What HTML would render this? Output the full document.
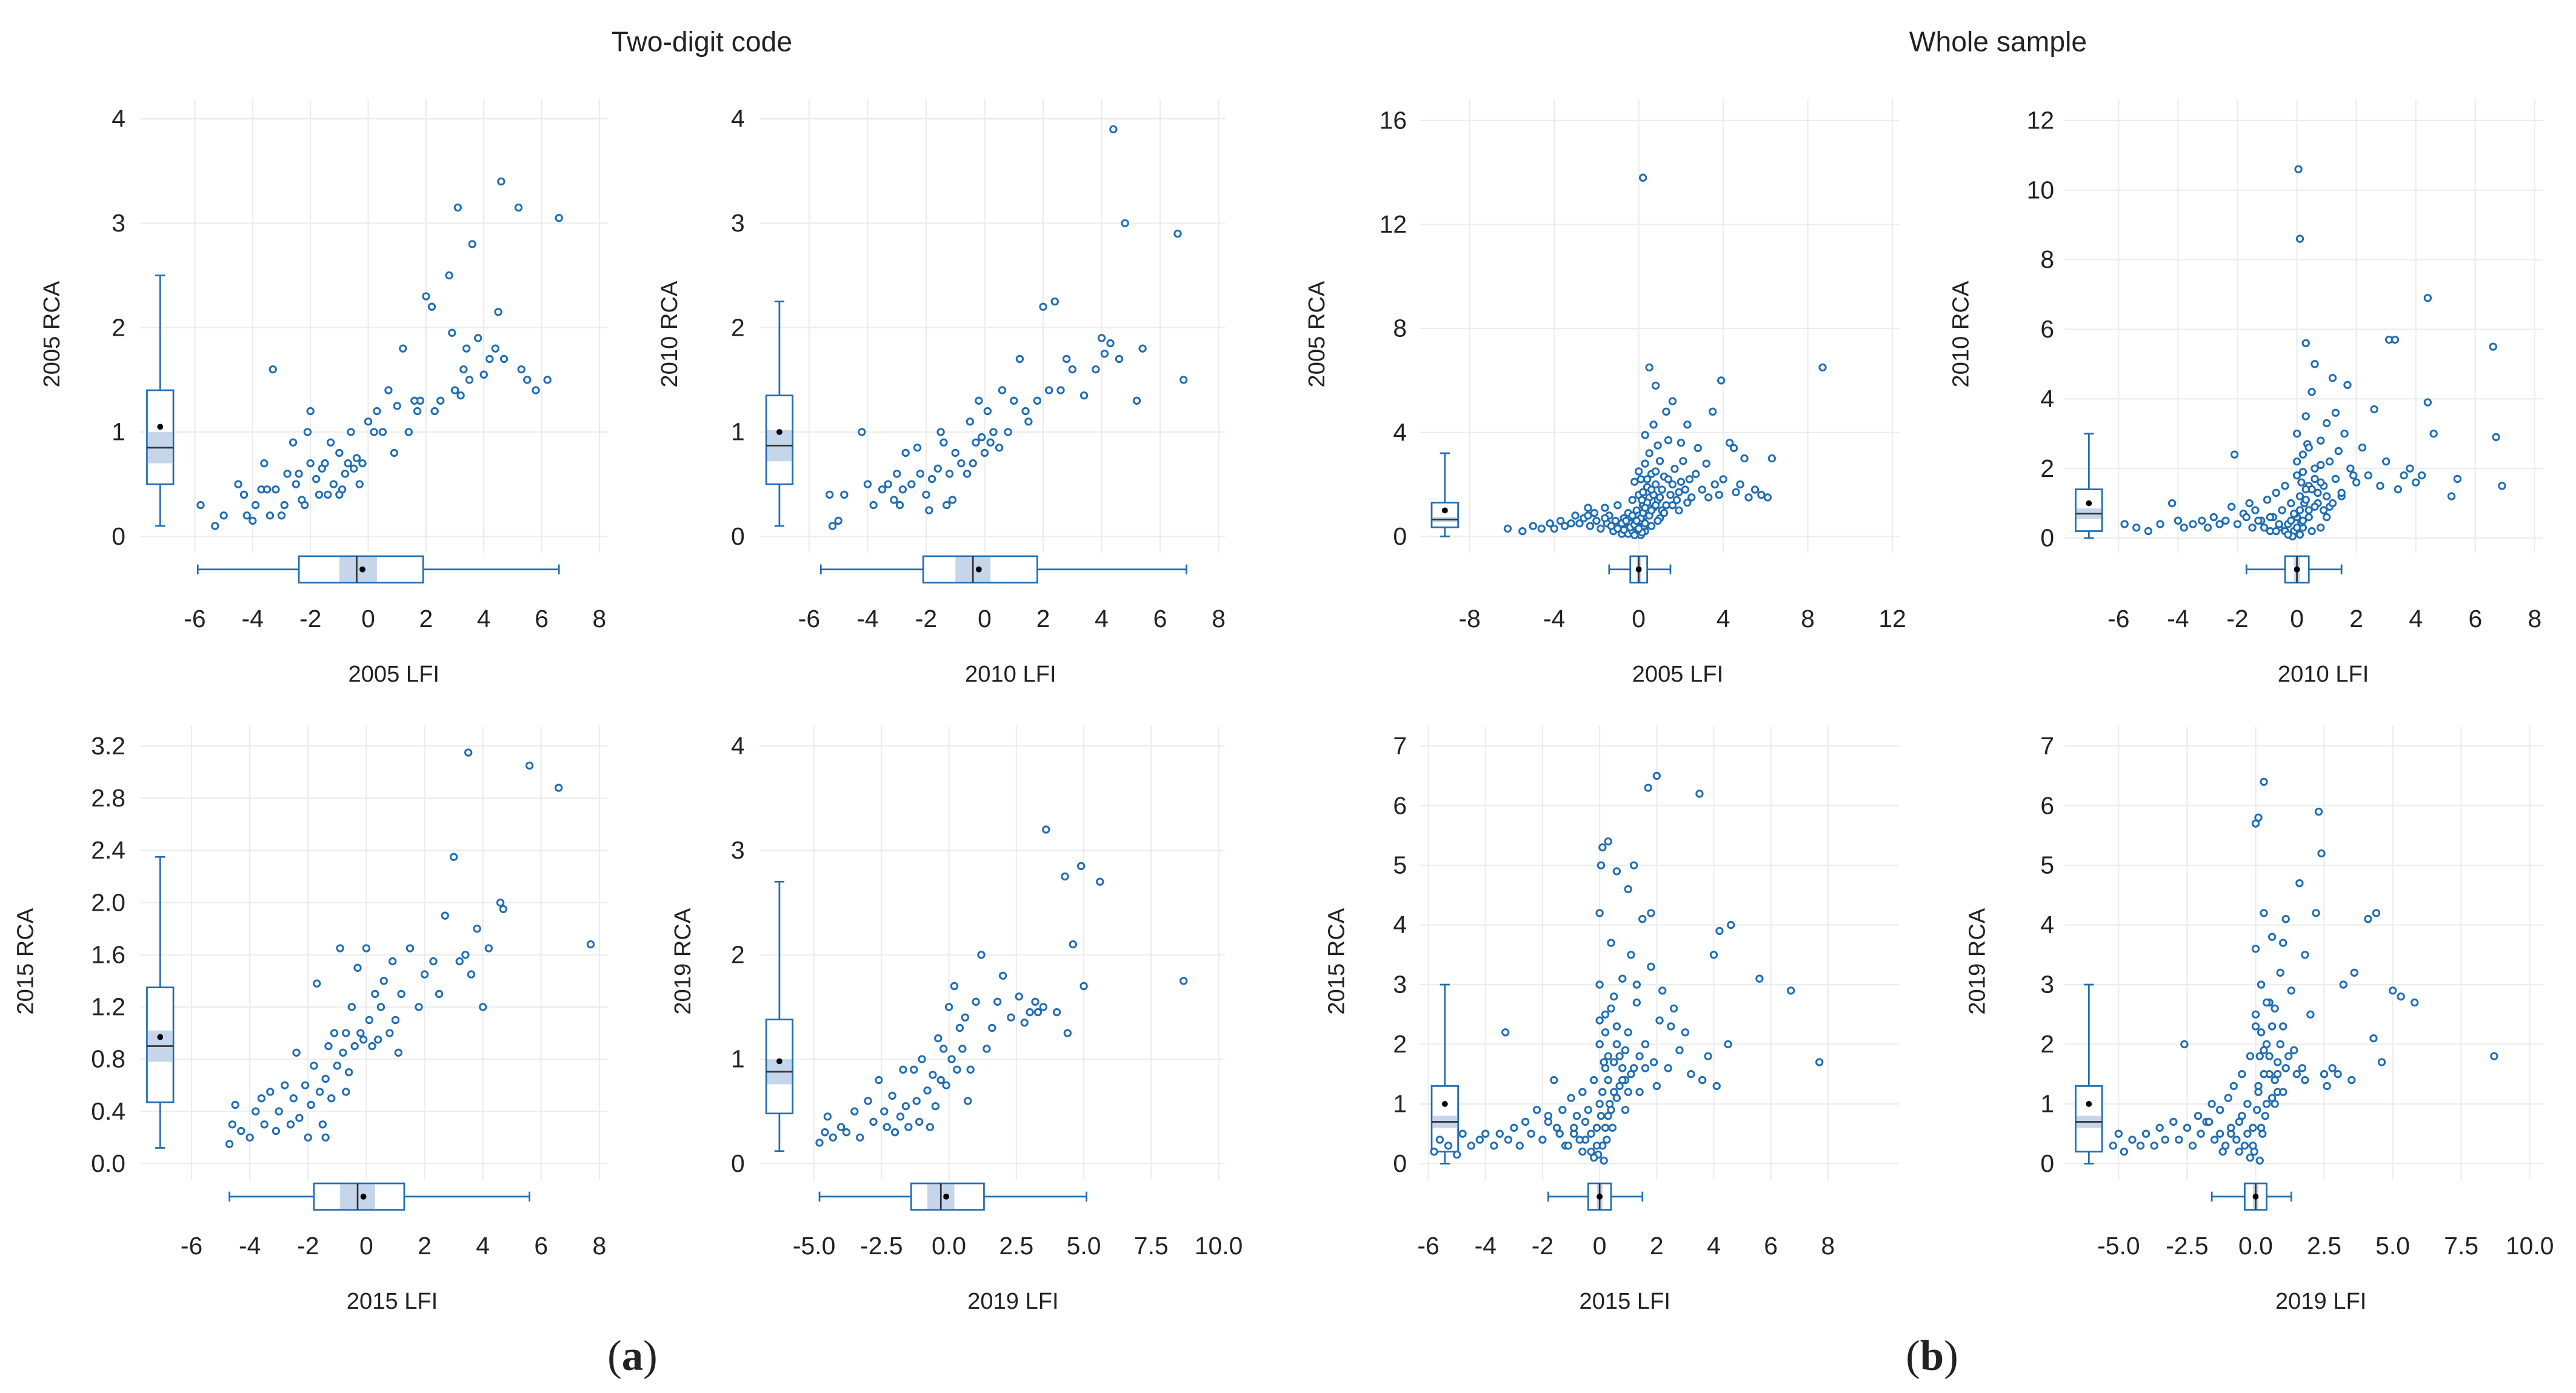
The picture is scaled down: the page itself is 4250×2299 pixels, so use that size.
<!DOCTYPE html>
<html><head><meta charset="utf-8"><style>
html,body{margin:0;padding:0;background:#fff}
svg{display:block}
text{font-family:"Liberation Sans",sans-serif;fill:#222}
</style></head><body>
<svg id="chart" xmlns="http://www.w3.org/2000/svg" width="4250" height="2299" viewBox="0 0 1560 844" preserveAspectRatio="none">
<text x="425" y="31" font-size="17" text-anchor="middle">Two-digit code</text>
<text x="1210" y="31" font-size="17" text-anchor="middle">Whole sample</text>
<text x="383" y="830" font-size="26" text-anchor="middle" style="font-family:'Liberation Serif',serif">(<tspan font-weight="bold">a</tspan>)</text>
<text x="1170" y="830" font-size="26" text-anchor="middle" style="font-family:'Liberation Serif',serif">(<tspan font-weight="bold">b</tspan>)</text>
</svg>
<script>
// ---- data (LFI, RCA) per panel ----
const p1x=[-5.8,-5.3,-5,-4.5,-4.3,-4.2,-4,-3.9,-3.7,-3.6,-3.5,-3.4,-3.3,-3.2,-3,-2.9,-2.8,-2.6,-2.5,-2.4,-2.3,-2.2,-2.1,-2,-2,-1.8,-1.6,-1.5,-1.4,-1.3,-1.2,-1,-1,-0.8,-0.7,-0.6,-0.5,-0.4,-0.3,-0.2,0,0.2,0.3,0.5,0.7,0.9,1,1.2,1.4,1.7,1.8,2,2.2,2.3,2.5,2.8,3,3.1,3.2,3.3,3.5,3.6,3.8,4,4.2,4.4,4.5,4.6,4.7,5.2,5.3,5.5,5.8,6.2,6.6,3.4,2.9,1.6,-0.9,-1.7];
const p1y=[0.3,0.1,0.2,0.5,0.4,0.2,0.15,0.3,0.45,0.7,0.45,0.2,1.6,0.45,0.2,0.3,0.6,0.9,0.5,0.6,0.35,0.3,1.0,1.2,0.7,0.55,0.65,0.7,0.4,0.9,0.5,0.4,0.8,0.6,0.7,1.0,0.65,0.75,0.5,0.7,1.1,1.0,1.2,1.0,1.4,0.8,1.25,1.8,1.0,1.2,1.3,2.3,2.2,1.2,1.3,2.5,1.4,3.15,1.35,1.6,1.5,2.8,1.9,1.55,1.7,1.8,2.15,3.4,1.7,3.15,1.6,1.5,1.4,1.5,3.05,1.8,1.95,1.3,0.45,0.4];
const p2x=[-5.3,-5.2,-5,-4.8,-4.2,-4,-3.8,-3.5,-3.3,-3.1,-3,-2.9,-2.7,-2.5,-2.3,-2.2,-2,-1.8,-1.6,-1.5,-1.4,-1.3,-1.2,-1.1,-1,-0.8,-0.6,-0.5,-0.4,-0.3,-0.2,0,0.1,0.3,0.5,0.6,0.8,1,1.2,1.4,1.5,1.8,2,2.2,2.4,2.6,2.8,3,3.4,3.8,4,4.1,4.3,4.4,4.6,4.8,5.2,5.4,6.6,6.8,-0.1,0.2,-1.9,-2.8];
const p2y=[0.4,0.1,0.15,0.4,1.0,0.5,0.3,0.45,0.5,0.35,0.6,0.3,0.8,0.5,0.85,0.6,0.4,0.55,0.65,1.0,0.9,0.3,0.6,0.35,0.8,0.7,0.6,1.1,0.7,0.9,1.3,0.8,1.2,1.0,0.85,1.4,1.0,1.3,1.7,1.2,1.1,1.3,2.2,1.4,2.25,1.4,1.7,1.6,1.35,1.6,1.9,1.75,1.85,3.9,1.7,3.0,1.3,1.8,2.9,1.5,0.95,0.9,0.25,0.45];
const p3x=[-6.2,-5.5,-5,-4.6,-4.2,-4,-3.7,-3.5,-3.2,-3,-2.8,-2.6,-2.4,-2.3,-2.1,-2,-1.8,-1.6,-1.5,-1.4,-1.2,-1.1,-1,-0.9,-0.8,-0.7,-0.6,-0.5,-0.5,-0.4,-0.3,-0.3,-0.2,-0.1,-0.1,0,0,0,0,0.1,0.1,0.2,0.2,0.2,0.3,0.3,0.4,0.4,0.5,0.5,0.5,0.6,0.6,0.7,0.8,0.8,0.9,1,1,1.1,1.2,1.3,1.3,1.4,1.5,1.6,1.7,1.8,2,2,2.2,2.3,2.4,2.5,2.7,2.8,3,3.2,3.3,3.5,3.6,3.8,3.9,4,4.3,4.5,4.6,4.8,5,5.2,5.5,5.8,6.1,6.3,8.7,1.6,0.9,0.7,2.1,1.9,-0.2,0.3,-0.2,0.1,0.15,-0.05,0.25,0.05,
 -1.3,-1.0,-0.8,-0.6,-0.4,-0.2,0,0.1,0.2,0.3,0.4,0.5,0.6,0.7,0.8,0.9,1.0,1.1,1.2,0.0,0.2,0.4,-0.1,0.3,0.6,0.8,1.4,1.6,1.9,2.3,-0.7,-1.6,-2.4,-0.3,0.15];
const p3y=[0.3,0.2,0.4,0.3,0.5,0.3,0.6,0.4,0.5,0.8,0.5,0.7,1.1,0.4,0.9,0.6,0.3,1.1,0.5,0.8,0.2,0.6,1.2,0.4,0.1,0.7,0.3,0.1,0.9,0.5,0.2,1.4,0.7,0.3,1.0,0.1,0.5,0.8,1.6,0.3,2.2,0.6,1.2,13.8,2.8,0.2,1.9,0.9,3.2,6.5,1.5,0.4,2.4,1.1,5.8,2.0,1.4,2.9,0.7,1.8,2.3,4.8,1.2,3.7,1.6,2.0,2.6,1.4,2.1,3.6,1.8,4.3,2.2,1.5,2.4,3.4,1.8,2.8,1.5,4.8,2.0,1.6,6.0,2.2,3.6,3.4,1.7,2.0,3.0,1.5,1.8,1.6,1.5,3.0,6.5,5.2,3.5,4.3,2.9,1.0,2.1,3.9,0.05,0.05,0.15,0.25,0.4,0.6,
 0.4,0.3,0.5,0.6,0.35,0.45,0.3,0.7,0.9,0.5,1.3,0.8,1.0,1.6,1.2,0.6,1.5,1.0,0.9,2.5,1.7,2.2,0.6,1.1,1.8,2.5,2.2,1.2,1.7,1.3,0.25,0.7,0.8,0.8,1.4];
const p4x=[-5.8,-5.4,-5,-4.6,-4.2,-4,-3.8,-3.5,-3.2,-3,-2.8,-2.6,-2.4,-2.2,-2.1,-2,-1.8,-1.6,-1.5,-1.4,-1.2,-1,-0.9,-0.8,-0.7,-0.6,-0.5,-0.4,-0.3,-0.2,-0.1,0,0,0,0.05,0.1,0.1,0.2,0.2,0.3,0.3,0.4,0.4,0.5,0.6,0.7,0.8,0.9,1,1,1.1,1.2,1.3,1.4,1.5,1.6,1.7,1.8,2,2.2,2.4,2.6,2.8,3,3.1,3.3,3.4,3.6,3.8,4,4.2,4.4,4.4,4.6,5.2,5.4,6.6,6.7,6.9,0.6,1.3,0.35,-0.15,0.1,0.15,-0.05,0.25,0.5,0.8,
 -1.3,-1.1,-0.9,-0.6,-0.4,-0.2,0,0.1,0.2,0.3,0.4,0.5,0.6,0.7,0.8,0.9,1.0,1.1,1.2,0.0,0.2,0.4,-0.1,0.3,0.6,0.8,1.5,1.9,-0.7,-1.7,-0.3,0.15];
const p4y=[0.4,0.3,0.2,0.4,1.0,0.5,0.3,0.4,0.5,0.3,0.6,0.4,0.5,0.9,2.4,0.4,0.7,1.0,0.3,0.8,0.5,1.1,0.2,0.6,1.3,0.3,0.8,1.5,0.4,1.0,0.2,0.6,1.8,3.0,10.6,8.6,1.2,0.3,2.4,5.6,3.5,1.5,0.8,4.2,2.0,1.0,2.8,1.5,3.3,0.6,2.2,4.6,1.7,2.5,1.2,3.0,4.4,2.0,1.6,2.6,1.8,3.7,1.5,2.2,5.7,5.7,1.4,1.8,2.0,1.6,1.8,3.9,6.9,3.0,1.2,1.7,5.5,2.9,1.5,5.0,3.6,2.7,0.05,0.1,0.45,0.7,1.0,0.2,0.3,
 0.5,0.3,0.6,0.4,0.2,0.5,0.3,0.8,0.5,1.1,0.6,1.4,0.9,1.3,1.6,0.8,1.2,0.9,1.0,2.2,1.9,2.6,0.7,1.4,1.7,2.1,1.3,1.8,0.2,0.6,0.1,1.6];
const p5x=[-4.7,-4.6,-4.5,-4.3,-4,-3.8,-3.6,-3.5,-3.3,-3.1,-3,-2.8,-2.6,-2.5,-2.4,-2.3,-2.1,-2,-1.9,-1.8,-1.7,-1.6,-1.5,-1.4,-1.3,-1.2,-1.1,-1,-0.9,-0.8,-0.7,-0.6,-0.5,-0.4,-0.3,-0.2,-0.1,0,0.1,0.2,0.3,0.5,0.6,0.8,0.9,1,1.2,1.5,1.8,2,2.3,2.5,3,3.2,3.4,3.5,3.6,3.8,4,4.2,4.6,4.7,5.6,6.6,7.7,-0.7,-1.4,0.4,1.1,2.7];
const p5y=[0.15,0.3,0.45,0.25,0.2,0.4,0.5,0.3,0.55,0.25,0.4,0.6,0.3,0.5,0.85,0.35,0.6,0.2,0.45,0.75,1.38,0.55,0.3,0.65,0.9,0.5,1.0,0.75,1.65,0.85,1.0,0.7,1.2,0.9,1.5,1.0,0.95,1.65,1.1,0.9,1.3,1.2,1.4,1.0,1.55,1.1,1.3,1.65,1.2,1.45,1.55,1.3,2.35,1.55,1.6,3.15,1.45,1.8,1.2,1.65,2.0,1.95,3.05,2.88,1.68,0.55,0.2,0.95,0.85,1.9];
const p6x=[-4.8,-4.6,-4.5,-4.3,-4,-3.8,-3.5,-3.3,-3,-2.8,-2.6,-2.4,-2.3,-2.1,-2,-1.8,-1.6,-1.5,-1.3,-1.2,-1.1,-1,-0.8,-0.6,-0.5,-0.4,-0.3,-0.2,-0.1,0,0.1,0.2,0.3,0.4,0.5,0.6,0.8,1,1.2,1.4,1.6,2,2.3,2.6,2.8,3,3.2,3.5,3.6,4,4.3,4.4,4.6,4.9,5,5.6,8.7,-0.7,0.7,-1.7,1.8,3.3];
const p6y=[0.2,0.3,0.45,0.25,0.35,0.3,0.5,0.25,0.6,0.4,0.8,0.5,0.35,0.65,0.3,0.45,0.55,0.35,0.9,0.6,0.4,1.0,0.7,0.85,0.55,1.2,0.8,1.1,0.75,1.5,1.0,1.7,0.9,1.3,1.1,1.4,0.9,1.55,2.0,1.1,1.3,1.8,1.4,1.6,1.35,1.45,1.55,1.5,3.2,1.45,2.75,1.25,2.1,2.85,1.7,2.7,1.75,0.35,0.6,0.9,1.55,1.45];
const p7x=[-5.8,-5.6,-5.3,-5,-4.8,-4.5,-4.2,-4,-3.7,-3.5,-3.3,-3.2,-3,-2.8,-2.6,-2.4,-2.2,-2,-1.8,-1.6,-1.5,-1.3,-1.2,-1,-0.9,-0.8,-0.6,-0.5,-0.4,-0.3,-0.2,-0.1,0,0,0,0,0.05,0.1,0.1,0.2,0.2,0.3,0.3,0.4,0.5,0.5,0.6,0.7,0.8,0.9,1,1.1,1.2,1.3,1.4,1.5,1.6,1.7,1.8,1.9,2,2.1,2.2,2.4,2.6,2.8,3,3.2,3.5,3.6,3.8,4,4.1,4.2,4.5,4.6,5.6,6.7,7.7,1.0,0.6,1.3,0.9,0.15,-0.05,0.25,0.35,0.45,1.8,2.5,1.2,
 -1.4,-1.1,-0.9,-0.7,-0.5,-0.3,-0.1,0.05,0.1,0.2,0.3,0.4,0.5,0.6,0.7,0.8,0.9,1.0,1.1,0.0,0.2,0.4,0.3,0.6,0.8,1.4,1.6,2.0,-0.6,-1.8,-0.2,0.15];
const p7y=[0.2,0.4,0.3,0.15,0.5,0.3,0.4,0.5,0.3,0.5,2.2,0.4,0.6,0.3,0.7,0.5,0.9,0.4,0.8,1.4,0.6,0.9,0.3,1.1,0.5,0.8,1.2,0.4,0.9,0.2,1.4,0.6,1.0,2.0,3.0,4.2,5.0,0.3,5.3,1.6,2.5,5.4,0.8,3.7,1.2,2.8,4.9,1.8,3.1,1.4,2.2,3.5,1.6,2.7,1.2,4.1,2.0,6.3,3.3,1.7,6.5,2.4,2.9,1.6,2.6,1.9,2.2,1.5,6.2,1.4,1.8,3.5,1.3,3.9,2.0,4.0,3.1,2.9,1.7,4.6,2.0,3.0,0.9,0.05,0.15,0.4,1.0,0.6,4.2,2.3,5.0,
 0.5,0.3,0.6,0.4,0.7,0.5,0.3,0.8,1.2,0.6,1.4,0.9,1.7,1.1,1.3,1.6,1.9,1.2,1.5,2.4,2.2,2.6,1.8,2.3,1.4,1.8,1.6,1.3,0.2,0.7,0.1,1.7];
const p8x=[-5.2,-5,-4.8,-4.5,-4.2,-4,-3.7,-3.5,-3.3,-3,-2.8,-2.6,-2.5,-2.3,-2.1,-2,-1.8,-1.6,-1.5,-1.3,-1.2,-1,-0.9,-0.8,-0.6,-0.5,-0.4,-0.3,-0.2,-0.1,0,0,0,0.1,0.1,0.2,0.3,0.3,0.4,0.5,0.6,0.7,0.8,0.9,1,1.1,1.2,1.3,1.5,1.6,1.8,2,2.2,2.3,2.4,2.6,2.8,3,3.2,3.5,3.6,4.1,4.4,4.3,4.6,5,5.3,5.8,8.7,1.8,1,0.5,0.7,0.15,-0.05,0.25,0.35,2.5,
 -1.3,-1.1,-0.9,-0.7,-0.5,-0.3,-0.1,0.05,0.1,0.2,0.3,0.4,0.5,0.6,0.7,0.8,0.9,1.0,1.1,0.0,0.2,0.4,0.3,0.6,0.8,1.4,1.7,-0.6,-1.7,-0.2,0.15];
const p8y=[0.3,0.5,0.2,0.4,0.3,0.5,0.3,0.6,0.4,0.7,0.4,2.0,0.6,0.3,0.8,0.5,0.7,1.0,0.4,0.9,0.2,1.1,0.5,1.3,0.7,1.5,0.3,1.0,1.8,0.6,2.3,3.6,5.7,5.8,1.2,3.0,4.2,6.4,2.0,1.5,3.8,2.6,1.2,3.2,2.3,4.1,1.8,2.9,1.5,4.7,3.5,2.5,4.2,5.9,5.2,1.3,1.6,1.5,3.0,1.4,3.2,4.1,4.2,2.1,1.7,2.9,2.8,2.7,1.8,1.4,3.7,2.7,1.0,0.05,0.2,0.5,0.8,1.5,
 0.5,0.3,0.6,0.4,0.8,0.5,0.3,0.9,1.3,0.6,1.5,1.0,1.8,1.1,1.4,1.7,2.0,1.2,1.6,2.5,2.2,2.7,1.9,2.3,1.5,1.9,1.6,0.2,0.7,0.1,1.8];
// box-plot stats: [min, q1, median, q3, max, mean, notchLo, notchHi]
const rcaStats=[[0.1,0.5,0.85,1.4,2.5,1.05,0.7,1.0],[0.1,0.5,0.87,1.35,2.25,1.0,0.72,1.02],[0,0.35,0.65,1.3,3.2,1.0,0.55,0.75],[0,0.2,0.7,1.4,3.0,1.0,0.55,0.85],[0.12,0.47,0.9,1.35,2.35,0.97,0.78,1.02],[0.12,0.48,0.88,1.38,2.7,0.98,0.76,1.0],[0,0.2,0.7,1.3,3.0,1.0,0.6,0.8],[0,0.2,0.7,1.3,3.0,1.0,0.6,0.8]];
const lfiStats=[[-5.9,-2.4,-0.4,1.9,6.6,-0.2,-1.0,0.3],[-5.6,-2.1,-0.4,1.8,6.9,-0.2,-1.0,0.2],[-1.4,-0.4,0,0.4,1.5,0,-0.1,0.1],[-1.7,-0.4,0,0.4,1.5,0,-0.1,0.1],[-4.7,-1.8,-0.3,1.3,5.6,-0.1,-0.9,0.3],[-4.8,-1.4,-0.3,1.3,5.1,-0.1,-0.8,0.2],[-1.8,-0.4,0,0.4,1.5,0,-0.1,0.1],[-1.6,-0.4,0,0.4,1.3,0,-0.1,0.1]];
const xTickLabels=[["-6","-4","-2","0","2","4","6","8"],["-6","-4","-2","0","2","4","6","8"],["-8","-4","0","4","8","12"],["-6","-4","-2","0","2","4","6","8"],["-6","-4","-2","0","2","4","6","8"],["-5.0","-2.5","0.0","2.5","5.0","7.5","10.0"],["-6","-4","-2","0","2","4","6","8"],["-5.0","-2.5","0.0","2.5","5.0","7.5","10.0"]];
const yTickLabels=[["0","1","2","3","4"],["0","1","2","3","4"],["0","4","8","12","16"],["0","2","4","6","8","10","12"],["0.0","0.4","0.8","1.2","1.6","2.0","2.4","2.8","3.2"],["0","1","2","3","4"],["0","1","2","3","4","5","6","7"],["0","1","2","3","4","5","6","7"]];
const xTitles=["2005 LFI","2010 LFI","2005 LFI","2010 LFI","2015 LFI","2019 LFI","2015 LFI","2019 LFI"];
const yTitles=["2005 RCA","2010 RCA","2005 RCA","2010 RCA","2015 RCA","2019 RCA","2015 RCA","2019 RCA"];
const xsAll=[p1x,p2x,p3x,p4x,p5x,p6x,p7x,p8x];
const ysAll=[p1y,p2y,p3y,p4y,p5y,p6y,p7y,p8y];

// ---- layout (pixels in 1560-wide view) ----
const L=[
 {left:85,right:368,top:60,bot:335,px0:118,px1:363,py0:325,py1:72,ylx:76,bx:97,hy:345,ytx:36},
 {left:460,right:742,top:60,bot:335,px0:490,px1:738,py0:325,py1:72,ylx:451,bx:472,hy:345,ytx:410},
 {left:860,right:1150,top:60,bot:335,px0:890,px1:1146,py0:325,py1:73,ylx:852,bx:875,hy:345,ytx:802},
 {left:1250,right:1540,top:60,bot:335,px0:1283,px1:1535,py0:326,py1:73,ylx:1244,bx:1265,hy:345,ytx:1192},
 {left:85,right:368,top:440,bot:715,px0:116,px1:363,py0:705,py1:452,ylx:76,bx:97,hy:725,ytx:20},
 {left:460,right:742,top:440,bot:715,px0:493,px1:738,py0:705,py1:452,ylx:451,bx:472,hy:725,ytx:418},
 {left:860,right:1150,top:440,bot:715,px0:865,px1:1107,py0:705,py1:452,ylx:852,bx:875,hy:725,ytx:814},
 {left:1250,right:1540,top:440,bot:715,px0:1283,px1:1532,py0:705,py1:452,ylx:1244,bx:1265,hy:725,ytx:1202}];
const NS='http://www.w3.org/2000/svg';
const svg=document.getElementById('chart');
const blue='#1f6db4';
function mk(tag,attrs,parent){const e=document.createElementNS(NS,tag);for(const k in attrs)e.setAttribute(k,attrs[k]);(parent||svg).appendChild(e);return e;}

L.forEach((g,i)=>{
  const xl=xTickLabels[i], yl=yTickLabels[i];
  const xv0=parseFloat(xl[0]), xv1=parseFloat(xl[xl.length-1]);
  const yv0=parseFloat(yl[0]), yv1=parseFloat(yl[yl.length-1]);
  const X=v=>g.px0+(v-xv0)*(g.px1-g.px0)/(xv1-xv0);
  const Y=v=>g.py0+(v-yv0)*(g.py1-g.py0)/(yv1-yv0);
  const grp=mk('g',{});
  
  
  xl.forEach(t=>{const l=mk('line',{x1:X(parseFloat(t)),x2:X(parseFloat(t)),y1:g.top,y2:g.bot,stroke:'#ececec','stroke-width':0.8},grp);
    
    
    const tx=mk('text',{x:X(parseFloat(t)),y:g.bot+45,'font-size':15,'text-anchor':'middle'},grp);tx.textContent=t;
    
    });
  yl.forEach(t=>{const l=mk('line',{x1:g.left,x2:g.right,y1:Y(parseFloat(t)),y2:Y(parseFloat(t)),stroke:'#ececec','stroke-width':0.8},grp);
    
    
    const tx=mk('text',{x:g.ylx,y:Y(parseFloat(t))+5,'font-size':15,'text-anchor':'end'},grp);tx.textContent=t;
    
    });
  const xt=mk('text',{x:(g.px0+g.px1)/2-2,y:g.bot+78,'font-size':14,'text-anchor':'middle'},grp);xt.textContent=xTitles[i];
  
  
  const yc=(g.top+g.bot)/2+5;
  const yt=mk('text',{x:g.ytx,y:yc,'font-size':14,'text-anchor':'middle',transform:`rotate(-90 ${g.ytx} ${yc})`},grp);yt.textContent=yTitles[i];
  
  
  const s=rcaStats[i], bw=8;
  const vb=mk('g',{},grp);
  
  
  mk('line',{x1:g.bx,x2:g.bx,y1:Y(s[0]),y2:Y(s[4]),stroke:blue,'stroke-width':1},vb);
  mk('line',{x1:g.bx-3,x2:g.bx+3,y1:Y(s[0]),y2:Y(s[0]),stroke:blue,'stroke-width':1},vb);
  mk('line',{x1:g.bx-3,x2:g.bx+3,y1:Y(s[4]),y2:Y(s[4]),stroke:blue,'stroke-width':1},vb);
  mk('rect',{x:g.bx-bw,y:Y(s[3]),width:2*bw,height:Y(s[1])-Y(s[3]),fill:'#fff',stroke:blue,'stroke-width':1},vb);
  mk('rect',{x:g.bx-bw+0.5,y:Y(s[7]),width:2*bw-1,height:Y(s[6])-Y(s[7]),fill:'#c5d6ea'},vb);
  mk('line',{x1:g.bx-bw,x2:g.bx+bw,y1:Y(s[2]),y2:Y(s[2]),stroke:'#333','stroke-width':1},vb);
  mk('circle',{cx:g.bx,cy:Y(s[5]),r:1.8,fill:'#000'},vb);
  const h=lfiStats[i], bh=8;
  const hb=mk('g',{},grp);
  
  
  mk('line',{x1:X(h[0]),x2:X(h[4]),y1:g.hy,y2:g.hy,stroke:blue,'stroke-width':1},hb);
  mk('line',{x1:X(h[0]),x2:X(h[0]),y1:g.hy-3,y2:g.hy+3,stroke:blue,'stroke-width':1},hb);
  mk('line',{x1:X(h[4]),x2:X(h[4]),y1:g.hy-3,y2:g.hy+3,stroke:blue,'stroke-width':1},hb);
  mk('rect',{x:X(h[1]),y:g.hy-bh,width:X(h[3])-X(h[1]),height:2*bh,fill:'#fff',stroke:blue,'stroke-width':1},hb);
  mk('rect',{x:X(h[6]),y:g.hy-bh+0.5,width:X(h[7])-X(h[6]),height:2*bh-1,fill:'#c5d6ea'},hb);
  mk('line',{x1:X(h[2]),x2:X(h[2]),y1:g.hy-bh,y2:g.hy+bh,stroke:'#333','stroke-width':1},hb);
  mk('circle',{cx:X(h[5]),cy:g.hy,r:1.8,fill:'#000'},hb);
  const xs=xsAll[i], ys=ysAll[i];
  xs.forEach((v,j)=>{
    const c=mk('circle',{cx:X(v),cy:Y(ys[j]),r:1.9,fill:'#fff',stroke:blue,'stroke-width':1.1},grp);
    
    
  });
});
</script>
</body></html>
